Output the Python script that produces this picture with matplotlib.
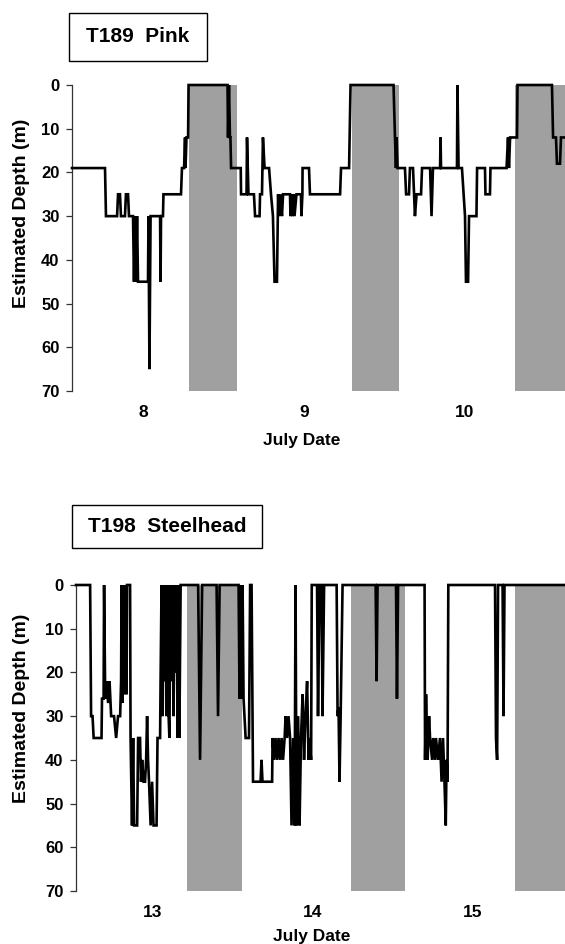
import matplotlib
matplotlib.use("Agg")
import matplotlib.pyplot as plt
from matplotlib.patches import Rectangle

plt.rcParams['font.family'] = ['Liberation Sans', 'DejaVu Sans']

# ---------------- data ----------------
depth_ticks = [0, 10, 20, 30, 40, 50, 60, 70]

pink_days = [7.559, 7.764, 7.770, 7.839, 7.845, 7.857, 7.863, 7.888, 7.894, 7.907,
             7.913, 7.938, 7.944, 7.950, 7.957, 7.963, 7.969, 8.031, 8.034, 8.040,
             8.047, 8.106, 8.109, 8.112, 8.124, 8.127, 8.236, 8.242, 8.255, 8.261,
             8.264, 8.270, 8.280, 8.283, 8.525, 8.528, 8.534, 8.540, 8.543, 8.547,
             8.607, 8.609, 8.643, 8.646, 8.655, 8.689, 8.696, 8.724, 8.727, 8.739,
             8.745, 8.755, 8.783, 8.795, 8.807, 8.817, 8.832, 8.839, 8.845, 8.854,
             8.863, 8.870, 8.913, 8.916, 8.922, 8.929, 8.935, 8.941, 8.953, 8.981,
             8.984, 8.990, 8.991, 9.031, 9.037, 9.224, 9.230, 9.280, 9.289, 9.556,
             9.565, 9.571, 9.575, 9.581, 9.627, 9.634, 9.652, 9.658, 9.677, 9.689,
             9.699, 9.727, 9.733, 9.783, 9.792, 9.801, 9.845, 9.848, 9.851, 9.950,
             9.953, 9.960, 9.981, 10.000, 10.006, 10.019, 10.025, 10.071, 10.075, 10.124,
             10.127, 10.155, 10.158, 10.258, 10.267, 10.273, 10.280, 10.289, 10.323, 10.326,
             10.540, 10.547, 10.565, 10.571, 10.590, 10.596, 10.621]
pink_depth = [19, 19, 30, 30, 25, 25, 30, 30, 25, 25,
              30, 30, 45, 30, 45, 30, 45, 45, 30, 65,
              30, 30, 45, 30, 30, 25, 25, 19, 19, 12,
              19, 12, 12, 0, 0, 12, 0, 12, 12, 19,
              19, 25, 25, 12, 25, 25, 30, 30, 25, 25,
              12, 19, 19, 25, 30, 45, 45, 25, 30, 25,
              30, 25, 25, 30, 25, 30, 25, 30, 25, 25,
              30, 25, 19, 19, 25, 25, 19, 19, 0, 0,
              12, 19, 12, 19, 19, 25, 25, 19, 19, 30,
              25, 25, 19, 19, 30, 19, 19, 12, 19, 19,
              0, 19, 19, 30, 45, 45, 30, 30, 19, 19,
              25, 25, 19, 19, 12, 19, 12, 12, 12, 0,
              0, 12, 12, 18, 18, 12, 12]
pink_dark = [(8.286, 8.584), (9.298, 9.590), (10.311, 10.75)]
pink_ticks = [8, 9, 10]

steel_days = [12.526, 12.614, 12.620, 12.629, 12.636, 12.685, 12.688, 12.698, 12.701, 12.708,
              12.717, 12.726, 12.735, 12.745, 12.763, 12.776, 12.788, 12.801, 12.807, 12.810,
              12.816, 12.819, 12.826, 12.832, 12.841, 12.844, 12.863, 12.866, 12.875, 12.882,
              12.888, 12.907, 12.913, 12.925, 12.931, 12.938, 12.947, 12.956, 12.963, 12.969,
              12.975, 12.981, 12.991, 13.000, 13.009, 13.028, 13.034, 13.050, 13.053, 13.059,
              13.066, 13.072, 13.078, 13.084, 13.090, 13.097, 13.103, 13.108, 13.115, 13.121,
              13.128, 13.134, 13.140, 13.146, 13.153, 13.159, 13.165, 13.170, 13.178, 13.287,
              13.299, 13.312, 13.402, 13.411, 13.421, 13.539, 13.545, 13.551, 13.558, 13.564,
              13.570, 13.583, 13.604, 13.611, 13.620, 13.629, 13.676, 13.682, 13.688, 13.748,
              13.751, 13.760, 13.769, 13.779, 13.788, 13.798, 13.807, 13.816, 13.826, 13.832,
              13.841, 13.850, 13.860, 13.869, 13.879, 13.888, 13.894, 13.900, 13.910, 13.919,
              13.928, 13.938, 13.947, 13.956, 13.966, 13.975, 13.981, 13.991, 13.995, 14.028,
              14.034, 14.044, 14.056, 14.062, 14.072, 14.150, 14.156, 14.162, 14.168, 14.175,
              14.187, 14.393, 14.399, 14.405, 14.520, 14.526, 14.533, 14.698, 14.701, 14.707,
              14.717, 14.726, 14.732, 14.745, 14.751, 14.763, 14.769, 14.782, 14.794, 14.804,
              14.813, 14.822, 14.830, 14.835, 14.841, 14.846, 15.137, 15.143, 15.150, 15.156,
              15.184, 15.190, 15.196, 15.573]
steel_depth = [0, 0, 30, 30, 35, 35, 26, 26, 0, 26,
               22, 27, 22, 30, 30, 35, 30, 30, 22, 0,
               27, 0, 25, 0, 25, 0, 0, 35, 55, 35,
               55, 55, 35, 35, 45, 40, 45, 45, 40, 30,
               40, 45, 55, 45, 55, 55, 35, 35, 22, 0,
               30, 0, 22, 0, 30, 0, 30, 35, 0, 22,
               0, 30, 0, 20, 0, 35, 0, 35, 0, 0,
               40, 0, 0, 30, 0, 0, 26, 0, 26, 0,
               26, 35, 35, 0, 0, 45, 45, 40, 45, 45,
               35, 40, 35, 40, 35, 40, 35, 40, 35, 30,
               35, 30, 35, 55, 35, 55, 0, 55, 30, 55,
               35, 25, 40, 30, 22, 40, 35, 40, 0, 0,
               30, 0, 0, 30, 0, 0, 30, 28, 45, 30,
               0, 0, 22, 0, 0, 26, 0, 0, 40, 25,
               40, 30, 35, 40, 35, 40, 35, 40, 35, 45,
               35, 45, 55, 40, 45, 0, 0, 35, 40, 0,
               0, 30, 0, 0]
steel_dark = [(13.218, 13.561), (14.240, 14.576), (15.262, 15.75)]
steel_ticks = [13, 14, 15]

panels = [
    dict(days=pink_days, depth=pink_depth, dark=pink_dark, ticks=pink_ticks,
         xlim=(7.559, 10.621), rect=[72/565, 1-391/944, 493/565, 306/944],
         title="T189  Pink", box=(69, 12.6, 137.5, 48), ylab_y=213, xlab=(302, 441)),
    dict(days=steel_days, depth=steel_depth, dark=steel_dark, ticks=steel_ticks,
         xlim=(12.526, 15.573), rect=[76/565, 1-891/944, 489/565, 306/944],
         title="T198  Steelhead", box=(72, 505, 190, 43), ylab_y=708, xlab=(312, 937)),
]

W, H = 565, 944
fig = plt.figure(figsize=(W/100, H/100), dpi=100)

for p in panels:
    ax = fig.add_axes(p["rect"])
    for (a, b) in p["dark"]:
        ax.axvspan(a, b, ymin=0, ymax=1, facecolor="#a0a0a0", edgecolor="none", zorder=1)
    ax.plot(p["days"], p["depth"], color="black", lw=1.9, zorder=3, clip_on=False,
            solid_joinstyle="miter")
    ax.set_xlim(*p["xlim"])
    ax.set_ylim(70, 0)
    ax.set_yticks(depth_ticks)
    ax.set_xticks(p["ticks"])
    ax.set_xticklabels([str(t) for t in p["ticks"]])
    for s in ["top", "right", "bottom"]:
        ax.spines[s].set_visible(False)
    ax.spines["left"].set_linewidth(0.9)
    ax.spines["left"].set_color("#333333")
    ax.tick_params(axis="y", direction="out", length=4, width=0.9, color="#333333",
                   labelsize=12, pad=5)
    ax.tick_params(axis="x", length=0, labelsize=12.5, pad=10)
    for lab in ax.get_xticklabels() + ax.get_yticklabels():
        lab.set_fontweight("bold")
    ax.patch.set_alpha(0)

    bx, by, bw, bh = p["box"]
    fig.patches.append(Rectangle((bx/W, 1-(by+bh)/H), bw/W, bh/H, transform=fig.transFigure,
                                 fill=False, edgecolor="black", lw=1.0))
    fig.text((bx+bw/2)/W, 1-(by+bh/2)/H, p["title"], ha="center", va="center",
             fontsize=15, fontweight="bold")
    fig.text(22/W, 1-p["ylab_y"]/H, "Estimated Depth (m)", rotation=90, ha="center",
             va="center", fontsize=14, fontweight="bold")
    fig.text(p["xlab"][0]/W, 1-p["xlab"][1]/H, "July Date", ha="center", va="center",
             fontsize=12.5, fontweight="bold")

fig.savefig("out.png", dpi=100)
